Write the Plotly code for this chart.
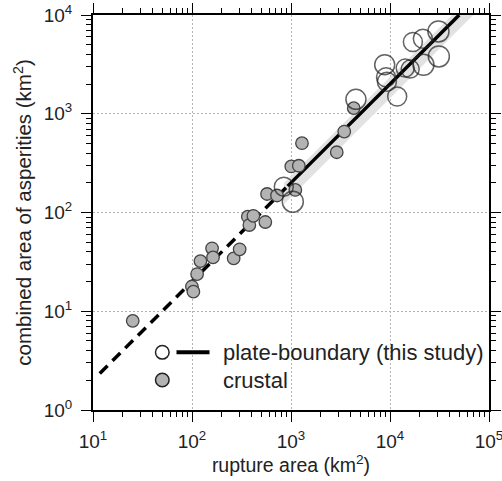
import plotly.graph_objects as go

# ---------------- data ----------------
crustal_x = [25.2, 99.8, 103.3, 112.6, 121.6, 159.5, 163.0, 263.5, 302.9, 366.5, 379.6,
             416.6, 550.4, 572.6, 722.4, 1007, 1199, 1105, 1291, 2899, 3450, 4302]
crustal_y = [7.99, 17.8, 15.8, 23.8, 32.2, 43.4, 35.1, 34.3, 42.4, 90.7, 74.7,
             92.6, 80.1, 154, 148.7, 292.7, 297.6, 169.1, 503, 407.7, 659.9, 1140]

plate_x = [846, 1043, 4528, 8842, 9113, 9306, 11820, 14240, 15990, 17030, 21480,
           21780, 30860, 31150]
plate_y = [182.7, 128.7, 1400, 3133, 2340, 2106, 1494, 2900, 2833, 5322, 5748,
           3133, 6817, 3803]
plate_size = [19, 21, 20, 20, 19, 19, 19, 18, 18, 19, 19, 21, 21, 21]

fit_x = [925, 50000]
fit_y = [185, 10000]
ext_x = [11.7, 925]
ext_y = [2.34, 185]
band_x = [850, 70000]
band_lo = [122, 10100]
band_hi = [200, 16500]

major_vals_x = [10, 100, 1000, 10000, 100000]
major_text_x = ["10<sup>1</sup>", "10<sup>2</sup>", "10<sup>3</sup>", "10<sup>4</sup>", "10<sup>5</sup>"]
major_vals_y = [1, 10, 100, 1000, 10000]
major_text_y = ["10<sup>0</sup>", "10<sup>1</sup>", "10<sup>2</sup>", "10<sup>3</sup>", "10<sup>4</sup>"]
minor_x = [m * 10 ** e for e in range(1, 5) for m in range(2, 10)]
minor_y = [m * 10 ** e for e in range(0, 4) for m in range(2, 10)]

legend_labels = ["plate-boundary (this study)", "crustal"]

# ---------------- layout geometry ----------------
W, H = 502, 481
ML, MR, MT, MB = 93, 13, 15, 71
PW, PH = W - ML - MR, H - MT - MB


def px(xp):
    return (xp - ML) / PW


def py(yp):
    return 1 - (yp - MT) / PH


FONT = "Liberation Sans, Arial, Helvetica, sans-serif"
TXT = "#222222"

fig = go.Figure()
fig.add_trace(go.Scatter(
    x=band_x + band_x[::-1], y=band_hi + band_lo[::-1], fill="toself",
    fillcolor="#e2e2e2", line=dict(width=0), mode="lines", hoverinfo="skip",
    showlegend=False))
fig.add_trace(go.Scatter(
    x=ext_x, y=ext_y, mode="lines",
    line=dict(color="black", width=3.5, dash="11px,7px"), showlegend=False))
fig.add_trace(go.Scatter(
    x=fit_x, y=fit_y, mode="lines",
    line=dict(color="black", width=3.5), showlegend=False))
fig.add_trace(go.Scatter(
    x=crustal_x, y=crustal_y, mode="markers",
    marker=dict(size=12.5, color="#b3b3b3", line=dict(color="#444444", width=1.3)),
    showlegend=False))
fig.add_trace(go.Scatter(
    x=plate_x, y=plate_y, mode="markers",
    marker=dict(size=plate_size, color="rgba(0,0,0,0)", line=dict(color="#222222", width=1.5)),
    showlegend=False))

axis_common = dict(
    type="log", ticks="outside", ticklen=10, tickwidth=1.3, tickcolor="black",
    showline=True, linewidth=2, linecolor="black", mirror="ticks",
    showgrid=True, gridcolor="#b4b4b4", griddash="2px,2px", gridwidth=1,
    zeroline=False, automargin=False, ticklabeloverflow="allow",
    tickfont=dict(size=19, color=TXT, family=FONT),
)

fig.update_layout(
    width=W, height=H, margin=dict(l=ML, r=MR, t=MT, b=MB),
    paper_bgcolor="white", plot_bgcolor="white",
    font=dict(family=FONT, color=TXT),
    xaxis=dict(axis_common, range=[1, 5], tickmode="array", tickvals=major_vals_x,
               ticktext=major_text_x, ticklabelstandoff=3,
               minor=dict(tickmode="array", tickvals=minor_x, ticks="outside", ticklen=5,
                          tickwidth=1.3, tickcolor="black", showgrid=False),
               title=dict(text="rupture area (km<sup>2</sup>)",
                          font=dict(size=19.5, color=TXT, family=FONT), standoff=6)),
    yaxis=dict(axis_common, range=[0, 4], tickmode="array", tickvals=major_vals_y,
               ticktext=major_text_y, ticklabelstandoff=5,
               minor=dict(tickmode="array", tickvals=minor_y, ticks="outside", ticklen=5,
                          tickwidth=1.3, tickcolor="black", showgrid=False),
               title=dict(text="combined area of asperities (km<sup>2</sup>)",
                          font=dict(size=20.5, color=TXT, family=FONT), standoff=6)),
    showlegend=False,
)

# ---------------- manual legend ----------------
shapes = []
r = 6.8
for yp, fill in [(352.3, "white"), (380, "#b3b3b3")]:
    shapes.append(dict(type="circle", xref="paper", yref="paper",
                       xsizemode="pixel", ysizemode="pixel",
                       xanchor=px(162.3), yanchor=py(yp),
                       x0=-r, x1=r, y0=-r, y1=r,
                       fillcolor=fill, line=dict(color="#222222", width=1.5)))
shapes.append(dict(type="line", xref="paper", yref="paper",
                   x0=px(176.5), x1=px(209.5), y0=py(352.3), y1=py(352.3),
                   line=dict(color="black", width=4)))
fig.update_layout(shapes=shapes)
for lab, yp in zip(legend_labels, [352.3, 380]):
    fig.add_annotation(text=lab, xref="paper", yref="paper", x=px(220.5), y=py(yp),
                       xanchor="left", yanchor="middle", showarrow=False,
                       font=dict(size=22, color=TXT, family=FONT))

fig.write_html("out.html")
